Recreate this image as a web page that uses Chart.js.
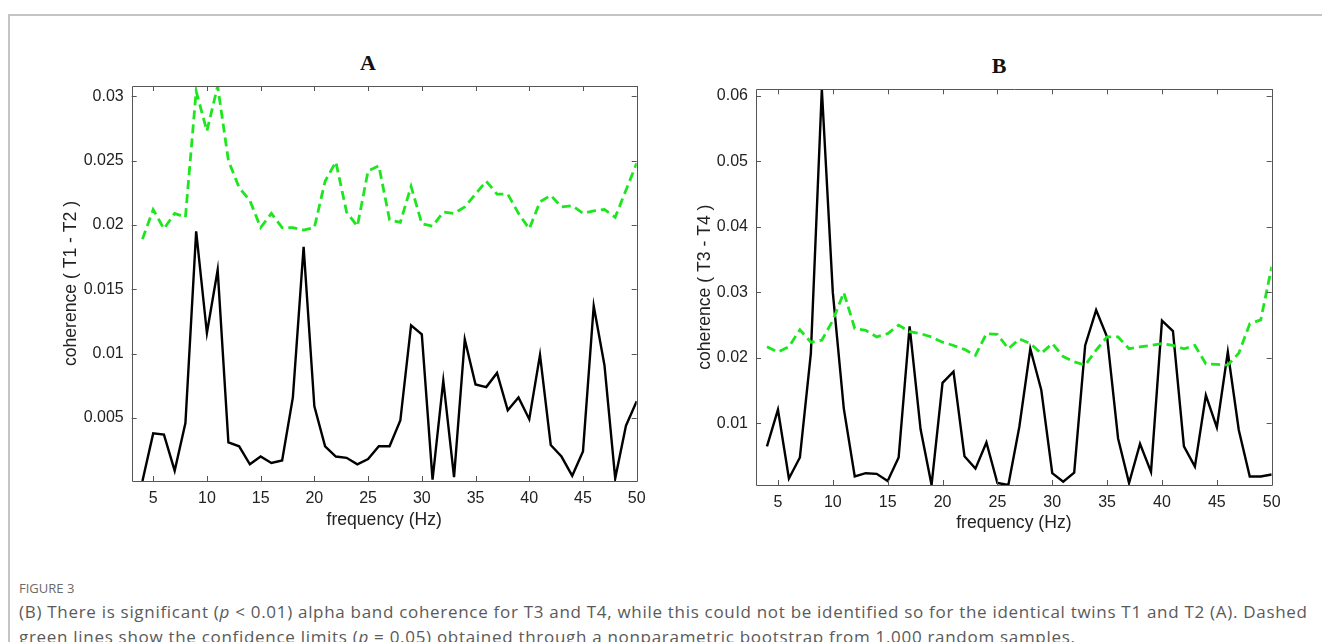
<!DOCTYPE html>
<html>
<head>
<meta charset="utf-8">
<script src="https://cdn.jsdelivr.net/npm/chart.js@4.4.1/dist/chart.umd.min.js"></script>
<style>
  body { margin: 0; background: #fff; width: 1322px; height: 642px; overflow: hidden; position: relative; font-family: "Liberation Sans", Arial, sans-serif; }
  #moldura { position: absolute; left: 8px; top: 14px; width: 1340px; height: 700px; border: 2px solid #c4c4c4; box-sizing: border-box; }
  .painel { position: absolute; top: 0; }
  .titulo { position: absolute; font-family: "Liberation Serif", "Times New Roman", serif; font-weight: bold; font-size: 22px; color: #111; transform: translate(-50%, -50%); }
  #figura { position: absolute; left: 19px; top: 579px; font-family: "Open Sans", sans-serif; font-size: 13px; color: #6a6a6a; }
  #legenda { position: absolute; left: 19px; top: 599px; margin: 0; font-family: "Open Sans", sans-serif; font-size: 17px; letter-spacing: 0.7px; line-height: 25px; color: #5a5a5a; white-space: nowrap; }
</style>
</head>
<body>
<div id="moldura"></div>
<div class="titulo" style="left:368px; top:63px;">A</div>
<div class="titulo" style="left:999px; top:66px;">B</div>
<canvas id="graficoA" class="painel" style="left:0px;" width="661" height="560"></canvas>
<canvas id="graficoB" class="painel" style="left:661px;" width="661" height="560"></canvas>
<div id="figura">FIGURE 3</div>
<p id="legenda">(B) There is significant (<i>p</i> &lt; 0.01) alpha band coherence for T3 and T4, while this could not be identified so for the identical twins T1 and T2 (A). Dashed<br>green lines show the confidence limits (<i>p</i> = 0.05) obtained through a nonparametric bootstrap from 1,000 random samples.</p>

<script>
var frequencia = [4, 5, 6, 7, 8, 9, 10, 11, 12, 13, 14, 15, 16, 17, 18, 19, 20, 21, 22, 23, 24, 25, 26, 27,
  28, 29, 30, 31, 32, 33, 34, 35, 36, 37, 38, 39, 40, 41, 42, 43, 44, 45, 46, 47, 48, 49, 50];

// painel A: gemeos T1 - T2
var coerenciaA = [0.0001, 0.0038, 0.0037, 0.0009, 0.0046, 0.0195, 0.0116, 0.0165, 0.0031, 0.0028, 0.0014, 0.0020,
  0.0015, 0.0017, 0.0066, 0.0183, 0.0059, 0.0028, 0.0020, 0.0019, 0.0014, 0.0018, 0.0028, 0.0028,
  0.0048, 0.0122, 0.0115, 0.0002, 0.0079, 0.0004, 0.0111, 0.0076, 0.0074, 0.0085, 0.0056, 0.0066,
  0.0049, 0.0099, 0.0029, 0.0020, 0.0005, 0.0024, 0.0137, 0.0091, 0.0003, 0.0044, 0.0063];
var limiteA = [0.0189, 0.0212, 0.0197, 0.0209, 0.0206, 0.0304, 0.0273, 0.0308, 0.0250, 0.0229, 0.0219, 0.0198,
  0.0209, 0.0198, 0.0198, 0.0196, 0.0198, 0.0234, 0.0249, 0.0210, 0.0199, 0.0242, 0.0246, 0.0204,
  0.0202, 0.0230, 0.0201, 0.0199, 0.0210, 0.0209, 0.0214, 0.0224, 0.0234, 0.0224, 0.0224, 0.0209,
  0.0197, 0.0218, 0.0223, 0.0214, 0.0215, 0.0209, 0.0211, 0.0212, 0.0206, 0.0227, 0.0248];

// painel B: T3 - T4
var coerenciaB = [0.0065, 0.0121, 0.0016, 0.0048, 0.0207, 0.0610, 0.0300, 0.0123, 0.0019, 0.0024, 0.0023, 0.0012,
  0.0048, 0.0248, 0.0091, 0.0006, 0.0162, 0.0179, 0.0050, 0.0031, 0.0071, 0.0009, 0.0006, 0.0095,
  0.0214, 0.0151, 0.0024, 0.0011, 0.0025, 0.0219, 0.0273, 0.0232, 0.0077, 0.0009, 0.0069, 0.0026,
  0.0257, 0.0241, 0.0065, 0.0034, 0.0143, 0.0094, 0.0209, 0.0090, 0.0019, 0.0019, 0.0022];
var limiteB = [0.0217, 0.0209, 0.0217, 0.0243, 0.0224, 0.0227, 0.0257, 0.0300, 0.0245, 0.0242, 0.0232, 0.0237,
  0.0250, 0.0240, 0.0237, 0.0232, 0.0224, 0.0219, 0.0213, 0.0204, 0.0237, 0.0236, 0.0214, 0.0229,
  0.0222, 0.0207, 0.0222, 0.0202, 0.0194, 0.0189, 0.0212, 0.0232, 0.0232, 0.0214, 0.0217, 0.0219,
  0.0222, 0.0219, 0.0214, 0.0219, 0.0191, 0.0190, 0.0189, 0.0207, 0.0252, 0.0258, 0.0339];

var ticksX = [5, 10, 15, 20, 25, 30, 35, 40, 45, 50];
var ticksYA = [0.005, 0.01, 0.015, 0.02, 0.025, 0.03];
var ticksYB = [0.01, 0.02, 0.03, 0.04, 0.05, 0.06];

// rotulos dos eixos 1.1x maiores que os ticks (como no matlab)
var fonteTick = { family: "'Liberation Sans', Arial, sans-serif", size: 16 };
var fonteRotulo = { family: "'Liberation Sans', Arial, sans-serif", size: 17.6 };

// caixa fechada com ticks para dentro, estilo matlab
var caixaPlugin = {
  id: "caixa",
  afterDraw: function (chart) {
    var ctx = chart.ctx;
    var area = chart.chartArea;
    var sx = chart.scales.x;
    var sy = chart.scales.y;
    ctx.save();
    ctx.strokeStyle = "#555";
    ctx.lineWidth = 1;
    ctx.beginPath();
    ctx.rect(Math.round(area.left) + 0.5, Math.round(area.top) + 0.5,
      Math.round(area.right - area.left), Math.round(area.bottom - area.top));
    sx.ticks.forEach(function (t) {
      var px = Math.round(sx.getPixelForValue(t.value)) + 0.5;
      ctx.moveTo(px, area.bottom); ctx.lineTo(px, area.bottom - 5);
      ctx.moveTo(px, area.top); ctx.lineTo(px, area.top + 5);
    });
    sy.ticks.forEach(function (t) {
      var py = Math.round(sy.getPixelForValue(t.value)) + 0.5;
      ctx.moveTo(area.left, py); ctx.lineTo(area.left + 5, py);
      ctx.moveTo(area.right, py); ctx.lineTo(area.right - 5, py);
    });
    ctx.stroke();
    ctx.restore();
  }
};

function pontos(valores) {
  return frequencia.map(function (f, i) { return { x: f, y: valores[i] }; });
}

function criarGrafico(id, coerencia, limite, ticksY, rotulo, medidas) {
  var todos = coerencia.concat(limite);
  var config = {
    type: "line",
    data: {
      datasets: [
        {
          data: pontos(limite),
          borderColor: "#1ee61e",
          borderWidth: 2.8,
          borderDash: [9, 5],
          pointRadius: 0,
          tension: 0,
        },
        {
          data: pontos(coerencia),
          borderColor: "#000000",
          borderWidth: 2.4,
          pointRadius: 0,
          tension: 0,
        },
      ],
    },
    options: {
      responsive: false,
      animation: false,
      layout: { padding: medidas.padding },
      plugins: { legend: { display: false }, tooltip: { enabled: false } },
      scales: {
        x: {
          type: "linear",
          min: 3,
          max: 50,
          grid: { display: false, drawTicks: false },
          border: { display: false },
          afterBuildTicks: function (scale) {
            scale.ticks = ticksX.map(function (v) { return { value: v }; });
          },
          afterFit: function (scale) { scale.height = medidas.alturaX; },
          ticks: { autoSkip: false, maxRotation: 0, padding: 8, color: "#222", font: fonteTick },
          title: { display: true, text: "frequency (Hz)", color: "#222", font: fonteRotulo, padding: 0 },
        },
        y: {
          type: "linear",
          min: Math.min.apply(null, todos),
          max: Math.max.apply(null, todos),
          grid: { display: false, drawTicks: false },
          border: { display: false },
          afterBuildTicks: function (scale) {
            scale.ticks = ticksY.map(function (v) { return { value: v }; });
          },
          afterFit: function (scale) { scale.width = medidas.larguraY; },
          ticks: {
            padding: 8,
            color: "#222",
            font: fonteTick,
            callback: function (v) { return String(+v.toFixed(4)); },
          },
          title: { display: true, text: rotulo, color: "#222", font: fonteRotulo, padding: 0 },
        },
      },
    },
    plugins: [caixaPlugin],
  };
  return new Chart(document.getElementById(id), config);
}

var graficoA = criarGrafico("graficoA", coerenciaA, limiteA, ticksYA, "coherence ( T1 - T2 )", {
  padding: { left: 60.5, top: 86, right: 24.3, bottom: 29.5 },
  larguraY: 71.2,
  alturaX: 49.5,
});

var graficoB = criarGrafico("graficoB", coerenciaB, limiteB, ticksYB, "coherence ( T3 - T4 )", {
  padding: { left: 33.5, top: 89.3, right: 50.3, bottom: 26.5 },
  larguraY: 61.5,
  alturaX: 48.5,
});
</script>
</body>
</html>
